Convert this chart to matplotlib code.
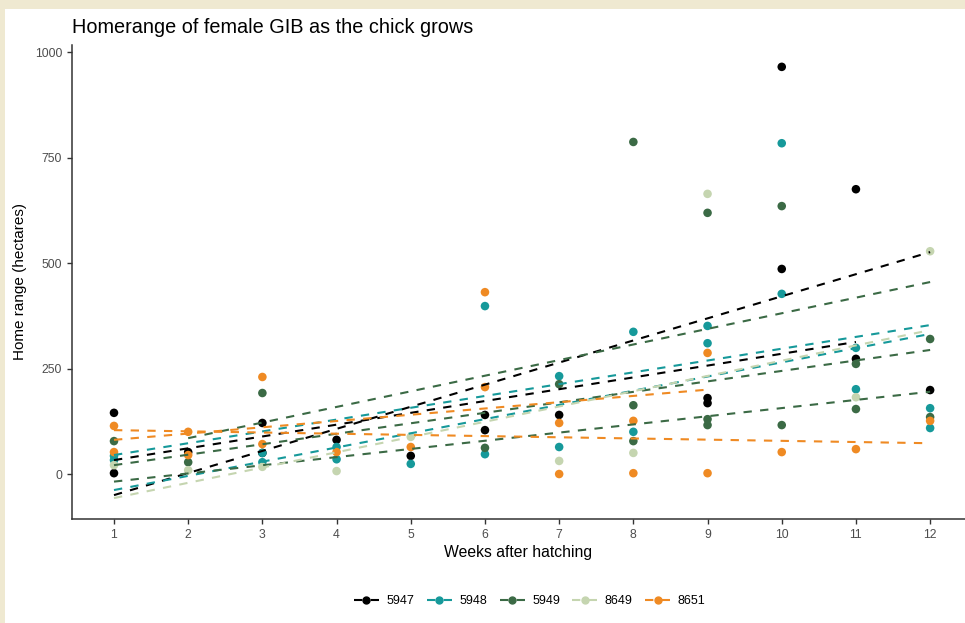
import matplotlib.pyplot as plt
from matplotlib.lines import Line2D
from matplotlib.patches import Rectangle

plt.rcParams['font.family'] = ['Liberation Sans', 'DejaVu Sans']

# bird ids and colours
birds = ["5947", "5948", "5949", "8649", "8651"]
colours = ["#000000", "#16999a", "#3b6a45", "#c5d5b0", "#ef8a23"]

# weekly home range estimates (hectares)
weeks_5947 = [1, 1, 2, 3, 3, 4, 5, 6, 6, 7, 9, 9, 10, 10, 11, 11, 12]
range_5947 = [145, 2, 52, 121, 50, 81, 43, 140, 104, 140, 180, 168, 965, 486, 675, 273, 199]

weeks_5948 = [1, 1, 3, 3, 4, 4, 5, 6, 6, 7, 7, 8, 8, 9, 9, 10, 10, 11, 11, 12, 12]
range_5948 = [43, 33, 50, 28, 64, 35, 24, 398, 47, 232, 64, 337, 100, 351, 310, 784, 427, 299, 201, 156, 109]

weeks_5949 = [1, 2, 3, 6, 7, 8, 8, 8, 9, 9, 9, 10, 10, 11, 11, 12, 12]
range_5949 = [78, 28, 192, 62, 213, 787, 163, 78, 619, 130, 116, 635, 116, 261, 154, 320, 135]

weeks_8649 = [1, 2, 3, 4, 5, 7, 8, 9, 11, 12]
range_8649 = [21, 9, 17, 7, 88, 31, 50, 664, 182, 528]

weeks_8651 = [1, 1, 2, 2, 3, 3, 4, 5, 6, 6, 7, 7, 8, 8, 9, 9, 10, 11, 12]
range_8651 = [114, 52, 100, 45, 230, 71, 52, 64, 431, 206, 121, 0, 126, 2, 287, 2, 52, 59, 126]

# fitted linear trends (one per chick): bird, first week, last week, fitted value at each end
trend_bird = ["5947", "5947", "5948", "5948", "5949", "5949", "5949", "8649", "8651", "8651"]
trend_start = [1, 1, 1, 1, 2, 1, 1, 1, 1, 1]
trend_end = [12, 11, 12, 12, 12, 12, 12, 12, 12, 9]
trend_v0 = [-50, 33, 45, -38, 85, 21, -18, -57, 104, 81]
trend_v1 = [526, 313, 353, 332, 455, 294, 195, 341, 73, 200]

points = {
    "5947": (weeks_5947, range_5947),
    "5948": (weeks_5948, range_5948),
    "5949": (weeks_5949, range_5949),
    "8649": (weeks_8649, range_8649),
    "8651": (weeks_8651, range_8651),
}
colour_of = dict(zip(birds, colours))

fig = plt.figure(figsize=(9.65, 6.23), dpi=100)
fig.patch.set_facecolor("#efe9d1")
fig.patches.append(Rectangle((5 / 965, 0), 1, 614 / 623, transform=fig.transFigure,
                             facecolor="white", edgecolor="none", zorder=-1))

ax = fig.add_axes([72 / 965, 104 / 623, 893 / 965, 474 / 623])

for b in birds:
    wk, hr = points[b]
    ax.scatter(wk, hr, s=38, color=colour_of[b], edgecolors="none", zorder=2)

for b, w0, w1, v0, v1 in zip(trend_bird, trend_start, trend_end, trend_v0, trend_v1):
    ax.plot([w0, w1], [v0, v1], color=colour_of[b], lw=1.5, dashes=(4, 4), zorder=3)

ax.set_xlim(0.434, 12.47)
ax.set_ylim(-106.6, 1016.8)
ax.set_xticks(range(1, 13))
ax.set_yticks([0, 250, 500, 750, 1000])

for side in ["top", "right"]:
    ax.spines[side].set_visible(False)
for side in ["left", "bottom"]:
    ax.spines[side].set_color("#333333")
    ax.spines[side].set_linewidth(1.1)
ax.tick_params(colors="#333333", labelcolor="#4d4d4d", labelsize=8.8, length=3.5, width=1)

ax.set_xlabel("Weeks after hatching", fontsize=11.3, color="black", labelpad=3)
ax.set_ylabel("Home range (hectares)", fontsize=11, color="black", labelpad=6)
fig.text(72 / 965, 1 - 33 / 623, "Homerange of female GIB as the chick grows",
         fontsize=14.3, color="black", ha="left", va="baseline")

handles = [Line2D([], [], color=c, marker="o", markersize=5, lw=1.5, dashes=(4, 4))
           for c in colours]
fig.legend(handles, birds, loc="center", bbox_to_anchor=(0.549, 0.035), ncol=5,
           frameon=False, fontsize=9, handlelength=2.0, handletextpad=0.6,
           columnspacing=1.0)

fig.savefig("out.png", dpi=100)
